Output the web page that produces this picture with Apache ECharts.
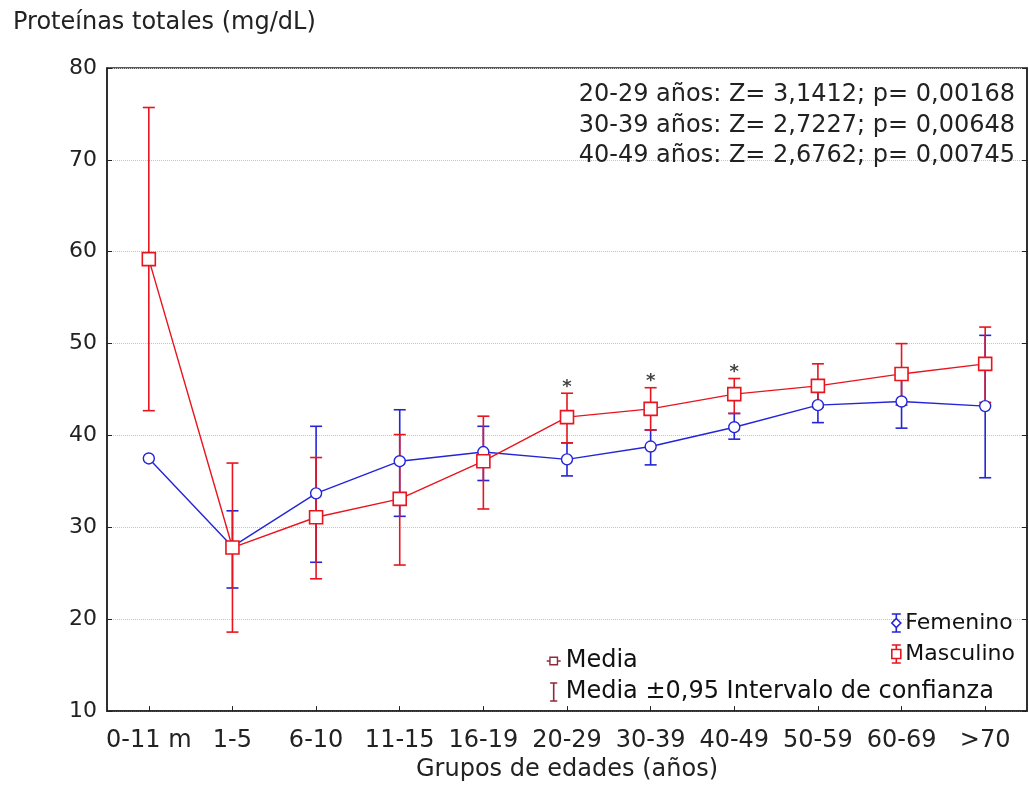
<!DOCTYPE html>
<html>
<head>
<meta charset="utf-8">
<script src="https://cdn.jsdelivr.net/npm/echarts@6/dist/echarts.min.js"></script>
<style>
html,body{margin:0;padding:0;background:#fff;}
#chart{width:1029px;height:787px;}
</style>
</head>
<body>
<div id="chart"></div>
<script>
// ---- data ----
const categories = ['0-11 m','1-5','6-10','11-15','16-19','20-29','30-39','40-49','50-59','60-69','>70'];
const femMean = [37.5, 27.9, 33.7, 37.2, 38.2, 37.4, 38.8, 40.9, 43.3, 43.7, 43.2];
const femLow  = [null, 23.4, 26.2, 31.2, 35.1, 35.6, 36.8, 39.6, 41.4, 40.8, 35.4];
const femHigh = [null, 31.8, 41.0, 42.8, 41.0, 39.2, 40.6, 42.4, 45.2, 46.6, 50.9];
const masMean = [59.2, 27.8, 31.1, 33.1, 37.2, 42.0, 42.9, 44.5, 45.4, 46.7, 47.8];
const masLow  = [42.7, 18.6, 24.4, 25.9, 32.0, 39.2, 40.6, 42.4, 43.1, 43.3, 43.6];
const masHigh = [75.7, 37.0, 37.6, 40.1, 42.1, 44.6, 45.2, 46.2, 47.8, 50.0, 51.8];
const significant = ['20-29','30-39','40-49'];
const annotations = [
  '20-29 años: Z= 3,1412; p= 0,00168',
  '30-39 años: Z= 2,7227; p= 0,00648',
  '40-49 años: Z= 2,6762; p= 0,00745'
];
const yTitle = 'Proteínas totales (mg/dL)';
const xTitle = 'Grupos de edades (años)';
const legendMedia = 'Media';
const legendCI = 'Media ±0,95 Intervalo de confianza';

// ---- style ----
const BLUE = '#2424d8';
const RED = '#e8141e';
const DARKRED = '#8e2a3a';
const FONT = '"DejaVu Sans", Verdana, sans-serif';

function ciData(lo, hi) {
  const out = [];
  lo.forEach((l, i) => { if (l != null && hi[i] != null) out.push([i, l, hi[i]]); });
  return out;
}
function errorBarSeries(name, lo, hi, color, z) {
  return {
    type: 'custom', name: name + ' IC', z: z,
    data: ciData(lo, hi),
    encode: { x: 0, y: [1, 2] },
    silent: true,
    renderItem: function (params, api) {
      const x = api.value(0);
      const pLo = api.coord([x, api.value(1)]);
      const pHi = api.coord([x, api.value(2)]);
      const hw = 6;
      const st = { stroke: color, lineWidth: 1.6, fill: null };
      return {
        type: 'group',
        children: [
          { type: 'line', shape: { x1: pLo[0], y1: pLo[1], x2: pHi[0], y2: pHi[1] }, style: st },
          { type: 'line', shape: { x1: pHi[0] - hw, y1: pHi[1], x2: pHi[0] + hw, y2: pHi[1] }, style: st },
          { type: 'line', shape: { x1: pLo[0] - hw, y1: pLo[1], x2: pLo[0] + hw, y2: pLo[1] }, style: st }
        ]
      };
    }
  };
}

const chart = echarts.init(document.getElementById('chart'), null, { renderer: 'canvas' });

const iconFem = 'path://M2,0 L12,0 M7,0 L7,5 M7,15 L7,20 M2,20 L12,20 M7,5 L12,10 L7,15 L2,10 Z';
const iconMas = 'path://M2,0 L12,0 M7,0 L7,5 M7,15 L7,20 M2,20 L12,20 M2,5 L12,5 L12,15 L2,15 Z';
const iconMedia = 'path://M0,5 L3,5 M10,5 L13,5 M3,1.5 L10,1.5 L10,8.5 L3,8.5 Z';
const iconCI = 'path://M0,0 L8,0 M4,0 L4,20 M0,20 L8,20';

const option = {
  backgroundColor: '#fff',
  animation: false,
  textStyle: { fontFamily: FONT },
  title: {
    text: yTitle, left: 8, top: 6,
    textStyle: { fontFamily: FONT, fontSize: 24, fontWeight: 'normal', color: '#222' }
  },
  grid: { left: 107, right: 2, top: 68, bottom: 71, show: true, borderColor: '#222', borderWidth: 1.5, containLabel: false },
  xAxis: {
    type: 'category', data: categories, boundaryGap: true,
    axisLine: { show: true, lineStyle: { color: '#222', width: 1.5 } },
    axisTick: { show: true, inside: true, alignWithLabel: true, length: 5, lineStyle: { color: '#222' } },
    axisLabel: { fontFamily: FONT, fontSize: 24, color: '#222', margin: 18, interval: 0 },
    splitLine: { show: false },
    name: xTitle, nameLocation: 'middle', nameGap: 46,
    nameTextStyle: { fontFamily: FONT, fontSize: 24, color: '#222' }
  },
  yAxis: [{
    type: 'value', min: 10, max: 80, interval: 10,
    axisLine: { show: true, lineStyle: { color: '#222', width: 1.5 } },
    axisTick: { show: true, inside: true, length: 5, lineStyle: { color: '#222' } },
    axisLabel: { fontFamily: FONT, fontSize: 22, color: '#222', margin: 10 },
    splitLine: { show: true, lineStyle: { color: '#c4c4c4', type: 'dotted', width: 1 } }
  }, {
    type: 'value', min: 10, max: 80, interval: 10, position: 'right',
    axisLine: { show: true, lineStyle: { color: '#222', width: 1.5 } },
    axisTick: { show: true, inside: true, length: 5, lineStyle: { color: '#222' } },
    axisLabel: { show: false },
    splitLine: { show: false }
  }],
  legend: [{
    orient: 'vertical', left: 886, top: 607, itemWidth: 14, itemHeight: 18, itemGap: 9,
    selectedMode: false,
    textStyle: { fontFamily: FONT, fontSize: 22, color: '#111', padding: [0, 0, 0, -3] },
    data: [
      { name: 'Femenino', icon: iconFem, itemStyle: { color: '#fff', borderColor: BLUE, borderWidth: 1.6 } },
      { name: 'Masculino', icon: iconMas, itemStyle: { color: '#fff', borderColor: RED, borderWidth: 1.6 } }
    ]
  }, {
    orient: 'vertical', left: 541, top: 644, itemWidth: 14, itemHeight: 18, itemGap: 7,
    selectedMode: false,
    textStyle: { fontFamily: FONT, fontSize: 24, color: '#111' },
    data: [
      { name: legendMedia, icon: iconMedia, itemStyle: { color: '#fff', borderColor: DARKRED, borderWidth: 1.4 } },
      { name: legendCI, icon: iconCI, itemStyle: { color: '#fff', borderColor: DARKRED, borderWidth: 1.6 } }
    ]
  }],
  graphic: annotations.map((t, i) => ({
    type: 'text', right: 14, top: 83 + i * 30.5, z: 100,
    style: { text: t, font: '24px ' + FONT, fill: '#222', textAlign: 'right' }
  })),
  series: [
    errorBarSeries('Femenino', femLow, femHigh, BLUE, 2),
    errorBarSeries('Masculino', masLow, masHigh, RED, 3),
    {
      type: 'line', name: 'Femenino', data: femMean, z: 4,
      symbol: 'circle', symbolSize: 11,
      lineStyle: { color: BLUE, width: 1.4 },
      itemStyle: { color: '#fff', borderColor: BLUE, borderWidth: 1.4 }
    },
    {
      type: 'line', name: 'Masculino', data: masMean, z: 5,
      symbol: 'rect', symbolSize: 13,
      lineStyle: { color: RED, width: 1.4 },
      itemStyle: { color: '#fff', borderColor: RED, borderWidth: 1.6 }
    },
    {
      type: 'scatter', name: 'sig', z: 6, silent: true,
      symbolSize: 0,
      data: significant.map(c => [c, masHigh[categories.indexOf(c)]]),
      label: { show: true, formatter: '*', position: 'top', distance: -3, fontFamily: FONT, fontSize: 18, fontWeight: 'bold', color: '#111' }
    },
    { type: 'line', name: legendMedia, data: [] },
    { type: 'line', name: legendCI, data: [] }
  ]
};
chart.setOption(option);
</script>
</body>
</html>
